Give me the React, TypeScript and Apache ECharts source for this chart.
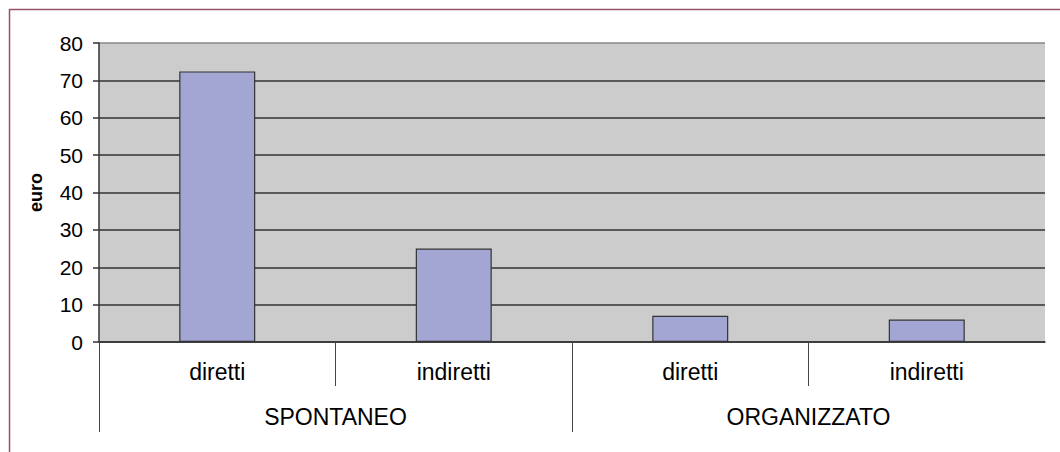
import React, { useEffect, useRef } from "react";
import * as echarts from "echarts";

const subCategories = ["diretti", "indiretti", "diretti", "indiretti"];
const groups = ["SPONTANEO", "ORGANIZZATO"];
const values = [72.4, 25, 7, 6];
const yTicks = [0, 10, 20, 30, 40, 50, 60, 70, 80];

export default function App() {
  const ref = useRef<HTMLDivElement>(null);
  useEffect(() => {
    if (!ref.current) return;
    const chart = echarts.init(ref.current, null, { renderer: "svg" });
    const font = "'Liberation Sans', Arial, sans-serif";
    const n = subCategories.length;
    chart.setOption({
      animation: false,
      textStyle: { fontFamily: font },
      graphic: [
        {
          type: "polyline",
          shape: { points: [[9.5, 452], [9.5, 9.5], [1060, 9.5]] },
          style: { stroke: "#93546a", lineWidth: 1.5, fill: null },
          silent: true,
        },
      ],
      grid: {
        left: 99,
        right: 15,
        top: 43,
        bottom: 110,
        show: true,
        backgroundColor: "#cccccc",
        borderWidth: 0,
      },
      xAxis: [
        {
          type: "value",
          min: 0,
          max: n,
          position: "bottom",
          splitLine: { show: false },
          axisLine: { show: true, lineStyle: { color: "#333", width: 1.5 } },
          axisTick: {
            show: true,
            inside: false,
            length: 44,
            customValues: subCategories.map((_, i) => i).filter((i) => i % 2 === 1),
            lineStyle: { color: "#444", width: 1 },
          },
          axisLabel: {
            customValues: subCategories.map((_, i) => i + 0.5),
            formatter: (v: number) => subCategories[Math.floor(v)] ?? "",
            margin: 18,
            fontSize: 23,
            color: "#000",
            fontFamily: font,
          },
        },
        {
          type: "value",
          min: 0,
          max: n,
          position: "bottom",
          splitLine: { show: false },
          axisLine: { show: false },
          axisTick: {
            show: true,
            length: 90,
            customValues: groups.map((_, i) => i * 2),
            lineStyle: { color: "#444", width: 1 },
          },
          axisLabel: {
            customValues: groups.map((_, i) => i * 2 + 1),
            formatter: (v: number) => groups[Math.floor(v / 2)] ?? "",
            margin: 63,
            fontSize: 23,
            color: "#000",
            fontFamily: font,
          },
        },
      ],
      yAxis: {
        type: "value",
        min: 0,
        max: 80,
        interval: 10,
        name: "euro",
        nameLocation: "middle",
        nameGap: 54,
        nameTextStyle: { fontWeight: "bold", fontSize: 18, color: "#000", fontFamily: font },
        axisLine: { show: true, lineStyle: { color: "#333", width: 1.5 } },
        axisTick: { show: true, length: 6, lineStyle: { color: "#333", width: 1.5 } },
        axisLabel: {
          margin: 16,
          fontSize: 21,
          color: "#000",
          fontFamily: font,
          formatter: (v: number) => (yTicks.includes(v) ? String(v) : ""),
        },
        splitLine: {
          show: true,
          lineStyle: {
            color: ["#333", "#333", "#333", "#333", "#333", "#333", "#333", "#333", "#888"],
            width: 1.5,
          },
        },
      },
      series: [
        {
          type: "bar",
          xAxisIndex: 0,
          barWidth: 76,
          data: values.map((v, i) => [i + 0.5, v]),
          itemStyle: { color: "#a3a5d3", borderColor: "#333", borderWidth: 1.2 },
        },
      ],
    });
    return () => chart.dispose();
  }, []);
  return (
    <div
      ref={ref}
      style={{ position: "fixed", left: 0, top: 0, width: 1060, height: 452, background: "#fff" }}
    />
  );
}
